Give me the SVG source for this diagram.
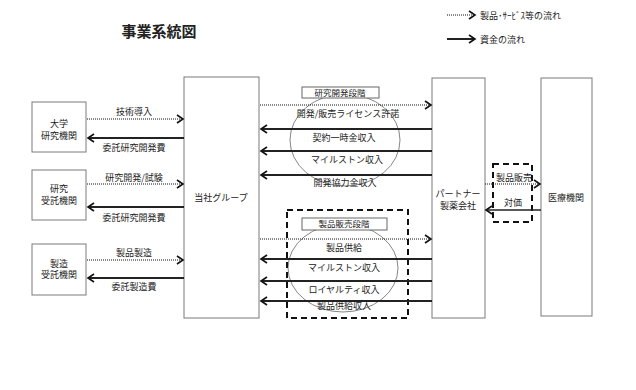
<svg xmlns="http://www.w3.org/2000/svg" width="636" height="390" viewBox="0 0 636 390">
<style>
text{font-family:"Noto Sans CJK JP","Noto Sans",sans-serif;fill:#222;font-size:9px}
.t{text-anchor:middle}
.box{fill:#fff;stroke:#7a7a7a;stroke-width:1}
.dot{fill:none;stroke:#111;stroke-width:1;stroke-dasharray:1 1;marker-end:url(#chev)}
.sol{fill:none;stroke:#222;stroke-width:2;marker-end:url(#chev)}
.ell{fill:none;stroke:#777;stroke-width:0.9}
.dash{fill:none;stroke:#111;stroke-width:2;stroke-dasharray:6 4}
.stage{fill:#fff;stroke:#666;stroke-width:1}
</style>
<defs>
<marker id="chev" markerUnits="userSpaceOnUse" markerWidth="12" markerHeight="12" refX="8" refY="6" orient="auto">
<path d="M2,2 L8,6 L2,10" fill="none" stroke="#111" stroke-width="1.6"/>
</marker>
</defs>
<rect width="636" height="390" fill="#fff"/>
<text x="159" y="37" class="t" style="font-size:15px;font-weight:bold">事業系統図</text>
<g id="legend">
<line x1="447" y1="15" x2="475" y2="15" class="dot"/>
<text x="480" y="18.5">製品･ｻｰﾋﾞｽ等の流れ</text>
<line x1="447" y1="39" x2="475" y2="39" class="sol"/>
<text x="480" y="42.5">資金の流れ</text>
</g>
<g id="stage1">
<ellipse cx="345" cy="140" rx="55" ry="46" class="ell"/>
<rect x="302" y="87" width="77" height="11" class="stage"/>
<text x="340" y="95.5" class="t" style="font-size:8.5px">研究開発段階</text>
</g>
<g id="stage2">
<ellipse cx="343" cy="268" rx="55" ry="44" class="ell"/>
<rect x="287" y="210" width="121" height="108" class="dash"/>
<rect x="302" y="218" width="85" height="12" class="stage"/>
<text x="344" y="227" class="t" style="font-size:8.5px">製品販売段階</text>
</g>
<g id="sales">
<rect x="493" y="164" width="39" height="58" class="dash"/>
</g>
<g id="univ"><rect x="32" y="102" width="54" height="50" class="box"/><text x="59" y="127" class="t">大学</text><text x="59" y="138.5" class="t">研究機関</text></g>
<g id="research"><rect x="32" y="170" width="54" height="50" class="box"/><text x="59" y="192" class="t">研究</text><text x="59" y="203.5" class="t">受託機関</text></g>
<g id="mfg"><rect x="32" y="244" width="54" height="51" class="box"/><text x="59" y="266.5" class="t">製造</text><text x="59" y="278" class="t">受託機関</text></g>
<g id="company"><rect x="184" y="77" width="75" height="241" class="box"/><text x="221" y="201" class="t">当社グループ</text></g>
<g id="partner"><rect x="432" y="78" width="53" height="240" class="box"/><text x="458" y="197" class="t">パートナー</text><text x="458" y="208.5" class="t">製薬会社</text></g>
<g id="hospital"><rect x="541" y="78" width="51" height="238" class="box"/><text x="566" y="201" class="t">医療機関</text></g>
<g id="connectors">
<line x1="87" y1="119" x2="183" y2="119" class="dot"/>
<text x="134" y="115" class="t">技術導入</text>
<line x1="184" y1="138" x2="88" y2="138" class="sol"/>
<text x="134" y="150.5" class="t">委託研究開発費</text>
<line x1="87" y1="184" x2="183" y2="184" class="dot"/>
<text x="134" y="180.5" class="t">研究開発/試験</text>
<line x1="184" y1="207" x2="88" y2="207" class="sol"/>
<text x="134" y="220.5" class="t">委託研究開発費</text>
<line x1="87" y1="260" x2="183" y2="260" class="dot"/>
<text x="134" y="255.5" class="t">製品製造</text>
<line x1="184" y1="278" x2="88" y2="278" class="sol"/>
<text x="134" y="289.5" class="t">委託製造費</text>

<line x1="260" y1="105" x2="431" y2="105" class="dot"/>
<text x="348" y="117" class="t">開発/販売ライセンス許諾</text>
<line x1="432" y1="129" x2="261" y2="129" class="sol"/>
<text x="344" y="140.5" class="t">契約一時金収入</text>
<line x1="432" y1="151" x2="261" y2="151" class="sol"/>
<text x="347" y="163" class="t">マイルストン収入</text>
<line x1="432" y1="175" x2="261" y2="175" class="sol"/>
<text x="345" y="185.5" class="t">開発協力金収入</text>

<line x1="260" y1="239" x2="431" y2="239" class="dot"/>
<text x="344" y="250.5" class="t">製品供給</text>
<line x1="432" y1="259" x2="261" y2="259" class="sol"/>
<text x="344" y="270.5" class="t">マイルストン収入</text>
<line x1="432" y1="281" x2="261" y2="281" class="sol"/>
<text x="344" y="292.5" class="t">ロイヤルティ収入</text>
<line x1="432" y1="301" x2="261" y2="301" class="sol"/>
<text x="344" y="309" class="t">製品供給収入</text>

<line x1="485" y1="184" x2="540" y2="184" class="dot"/>
<text x="514" y="180.5" class="t">製品販売</text>
<text x="513" y="205.5" class="t">対価</text>
<line x1="541" y1="210" x2="486" y2="210" class="sol" style="stroke-width:1.5"/>
</g>
</svg>
